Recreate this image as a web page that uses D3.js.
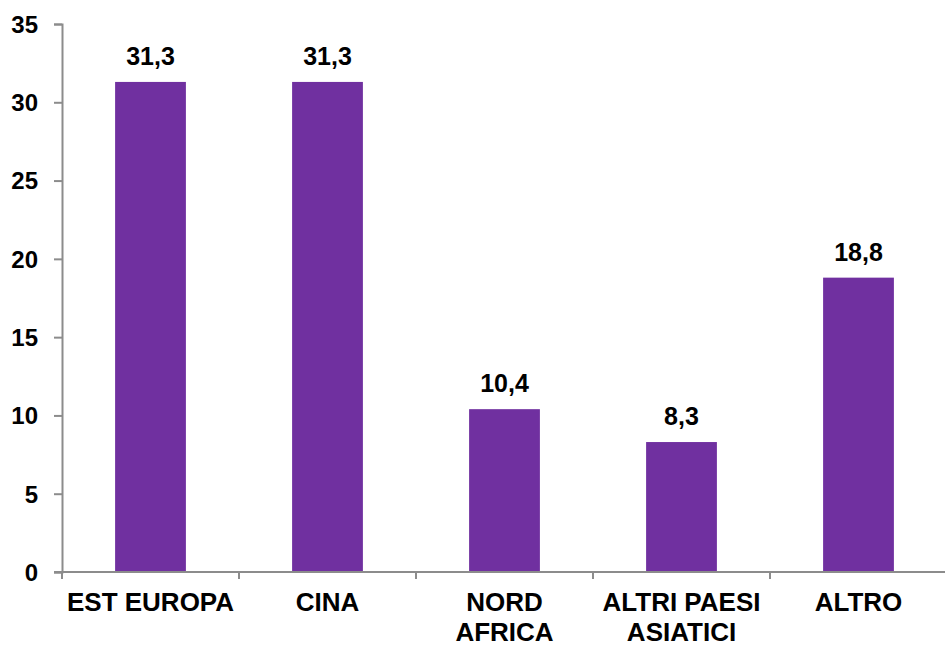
<!DOCTYPE html>
<html>
<head>
<meta charset="utf-8">
<script src="https://cdn.jsdelivr.net/npm/d3@7"></script>
<style>
	body { margin: 0; background: #fff; }
	svg text { font-family: "Liberation Sans", Arial, sans-serif; font-weight: bold; fill: #000; }
</style>
</head>
<body>
<svg id="chart" width="945" height="647"></svg>
<script>
// data
const categories = ["EST EUROPA", "CINA", "NORD AFRICA", "ALTRI PAESI ASIATICI", "ALTRO"];
const catLines = [["EST EUROPA"], ["CINA"], ["NORD", "AFRICA"], ["ALTRI PAESI", "ASIATICI"], ["ALTRO"]];
const values = [31.3, 31.3, 10.4, 8.3, 18.8];
const yTicks = [0, 5, 10, 15, 20, 25, 30, 35];

const svg = d3.select("#chart");
const plotLeft = 62, plotRight = 947, plotTop = 24, plotBottom = 572;

const x = d3.scaleBand()
	.domain(categories)
	.range([plotLeft, plotRight])
	.paddingInner(0.6)
	.paddingOuter(0.3);

const y = d3.scaleLinear()
	.domain([0, 35])
	.range([plotBottom, plotTop]);

const axisColor = "#8c8c8c";

// bars
svg.append("g")
	.selectAll("rect")
	.data(values)
	.enter().append("rect")
	.attr("x", (d, i) => x(categories[i]))
	.attr("y", d => y(d))
	.attr("width", x.bandwidth())
	.attr("height", d => y(0) - y(d))
	.attr("fill", "#7030a0");

// value labels
svg.append("g")
	.selectAll("text")
	.data(values)
	.enter().append("text")
	.attr("x", (d, i) => x(categories[i]) + x.bandwidth() / 2)
	.attr("y", d => y(d) - 17)
	.attr("text-anchor", "middle")
	.style("font-size", "25px")
	.text(d => d3.format(".1f")(d).replace(".", ","));

// y axis
const yAxis = svg.append("g")
	.attr("transform", `translate(${plotLeft},0)`)
	.call(d3.axisLeft(y).tickValues(yTicks).tickSize(8).tickPadding(16));
yAxis.select(".domain").attr("stroke", axisColor).attr("stroke-width", 2);
yAxis.selectAll(".tick line").attr("stroke", axisColor).attr("stroke-width", 2);
yAxis.selectAll(".tick text")
	.style("font-size", "24px")
	.attr("dy", "0.35em");

// x axis line and boundary ticks
const xg = svg.append("g");
xg.append("line")
	.attr("x1", plotLeft - 8).attr("x2", 945)
	.attr("y1", y(0)).attr("y2", y(0))
	.attr("stroke", axisColor).attr("stroke-width", 2);
const bounds = d3.range(categories.length + 1).map(i => plotLeft + i * x.step());
xg.selectAll("line.tk")
	.data(bounds)
	.enter().append("line")
	.attr("class", "tk")
	.attr("x1", d => d).attr("x2", d => d)
	.attr("y1", y(0)).attr("y2", y(0) + 7)
	.attr("stroke", axisColor).attr("stroke-width", 2);

// category labels
const cl = xg.selectAll("text")
	.data(categories)
	.enter().append("text")
	.attr("text-anchor", "middle")
	.attr("transform", d => `translate(${x(d) + x.bandwidth() / 2},0)`)
	.style("font-size", "26px");
cl.selectAll("tspan")
	.data((d, i) => catLines[i])
	.enter().append("tspan")
	.attr("x", 0)
	.attr("y", (d, j) => 611 + j * 30)
	.text(d => d);
</script>
</body>
</html>
